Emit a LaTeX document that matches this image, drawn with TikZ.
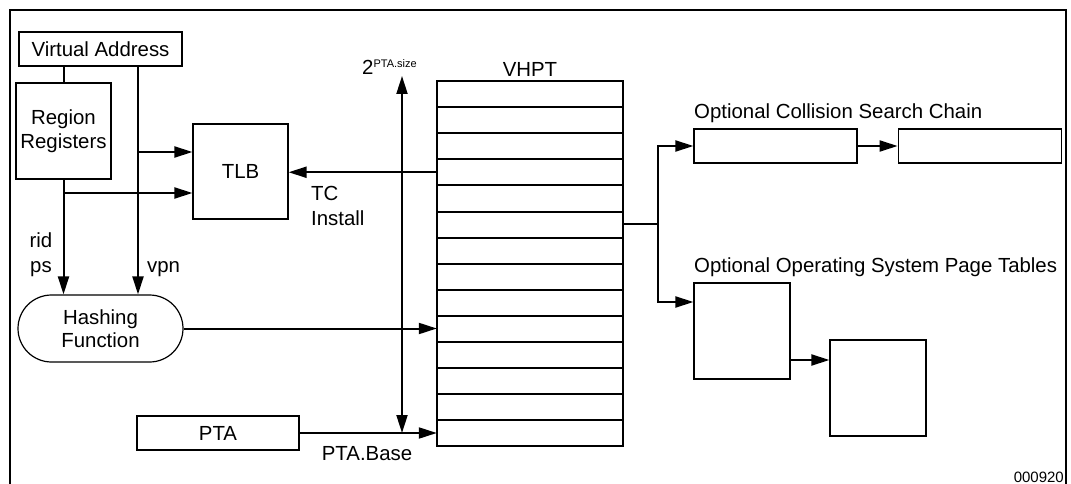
\documentclass[tikz,border=0pt]{standalone}
\usepackage{fontspec}
\setmainfont{Liberation Sans}
\usetikzlibrary{arrows.meta,positioning,calc,shapes.misc}

\begin{document}
\begin{tikzpicture}[x=1pt, y=-1pt, >={Triangle[length=18pt,width=11pt]},
  font=\fontsize{20.4}{23.5}\selectfont,
  box/.style={draw, line width=1.2pt, rectangle, inner sep=0pt, align=center},
  wire/.style={line width=2pt},
  lbl/.style={inner sep=0pt, align=left}]
\useasboundingbox (0,0) rectangle (1071,484);
% outer frame
\draw[line width=1.3pt] (10,484) -- (10,10) -- (1066,10) -- (1066,484);

\node[box, minimum width=163pt, minimum height=34pt] (va)  at (100.5,49)   {Virtual Address};
\node[box, minimum width=95pt, minimum height=96pt]  (rr)  at (63.5,131)   {Region\\Registers};
\node[box, minimum width=95pt, minimum height=95pt]  (tlb) at (240.5,171.5) {TLB};
\node[draw, line width=1.2pt, rounded rectangle, minimum width=165pt, minimum height=67pt, inner sep=0pt, align=center] (hash) at (100.5,328.5) {Hashing\\Function};
\node[box, minimum width=162pt, minimum height=34pt] (pta) at (218,433) {PTA};

% VHPT table
\node[box, minimum width=186pt, minimum height=365pt] (vhpt) at (530,263.5) {};
\node[anchor=base] (vhpttitle) at (530,77) {VHPT};
\foreach \i in {1,...,14}
  \node[minimum width=186pt, minimum height=26.07pt, inner sep=0pt] (row\i) at (530,{81+26.07*(\i-0.5)}) {};
\foreach \i in {1,...,13}
  \draw[wire] (row\i.south west) -- (row\i.south east);

% optional structures
\node[lbl, anchor=west] (colltitle) at (694,113) {Optional Collision Search Chain};
\node[box, minimum width=163pt, minimum height=34pt] (coll1) at (775.5,146) {};
\node[box, minimum width=163pt, minimum height=34pt, right=40pt of coll1] (coll2) {};
\node[lbl, anchor=west] (ostitle) at (694,267) {Optional Operating System Page Tables};
\node[box, minimum size=96pt] (os1) at (742,331) {};
\node[box, minimum size=96pt] (os2) at (878,388) {};

% left side connectors
\draw[wire] (rr.north) -- (rr.north |- va.south);
\coordinate (vpn) at ([xshift=37.5pt]va.south);
\coordinate (tlbin1) at ([yshift=19.5pt]tlb.west);
\coordinate (tlbin2) at ([yshift=-21.5pt]tlb.west);
\draw[wire,->] (vpn) -- (vpn |- hash.north);
\draw[wire,->] (vpn |- tlbin1) -- (tlbin1);
\draw[wire,->] (rr.south |- tlbin2) -- (tlbin2);
\draw[wire,->] (rr.south) -- (rr.south |- hash.north);
\node[lbl, align=center, anchor=north, font=\fontsize{20.4}{25}\selectfont] (ridps) at (41,232.5) {rid\\ps};
\node[lbl, anchor=base west] (vpnlbl) at (147,272) {vpn};

% into and out of the VHPT
\draw[wire,->] (row4.west) -- (row4.west -| tlb.east);
\node[lbl, anchor=north west, font=\fontsize{20.4}{25}\selectfont] (tcinstall) at (311,186) {TC\\Install};
\draw[wire,->] (hash.east) -- (hash.east -| row10.west);
\draw[wire,->] (pta.east) -- (pta.east -| row14.west);
\node[lbl, anchor=base] (ptabase) at (367,460) {PTA.Base};
\coordinate (sizetop) at (402,76);
\draw[wire,<->] (sizetop) -- (sizetop |- pta.east);
\node[lbl, anchor=base west] (sizelbl) at (362,75) {2\raisebox{7pt}{\fontsize{11}{12}\selectfont PTA.size}};

% fork to the optional structures
\coordinate (fork) at ([xshift=35pt]row6.east);
\coordinate (os1in) at ([yshift=29pt]os1.west);
\coordinate (os1out) at ([yshift=-29pt]os1.east);
\draw[wire] (row6.east) -- (fork);
\draw[wire,->] (fork) |- (coll1.west);
\draw[wire,->] (fork) |- (os1in);
\draw[wire,->] (coll1) -- (coll2);
\draw[wire,->] (os1out) -- (os1out -| os2.west);

\node[anchor=base east, inner sep=0pt, font=\fontsize{15}{18}\selectfont] (tag) at (1064,482) {000920};
\end{tikzpicture}
\end{document}
